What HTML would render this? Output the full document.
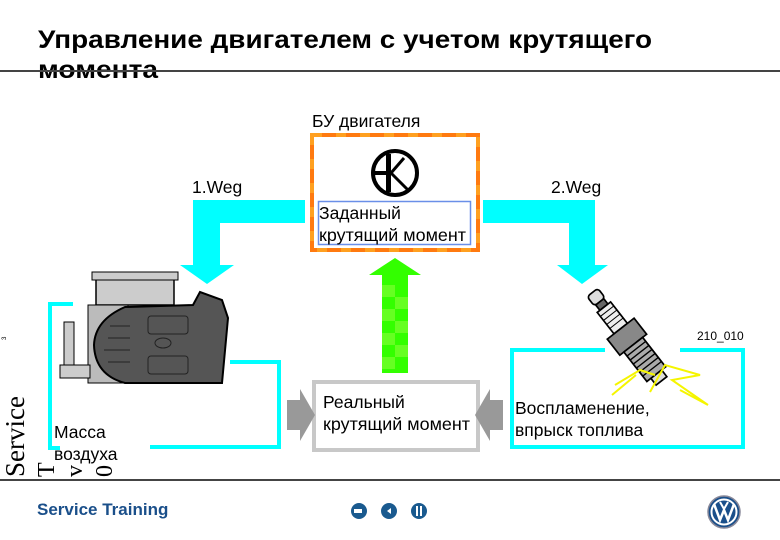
<!DOCTYPE html>
<html><head><meta charset="utf-8"><style>
html,body{margin:0;padding:0;background:#fff;width:780px;height:540px;overflow:hidden}
svg{display:block}
.s{font-family:"Liberation Sans","DejaVu Sans",sans-serif}
.r{font-family:"Liberation Serif",serif}
</style></head><body>
<svg width="780" height="540" viewBox="0 0 780 540" xmlns="http://www.w3.org/2000/svg">
<g class="s">
<!-- title -->
<text x="38" y="48" font-size="25" font-weight="bold" fill="#000" textLength="614" lengthAdjust="spacingAndGlyphs">Управление двигателем с учетом крутящего</text>
<text x="38" y="78" font-size="25" font-weight="bold" fill="#000" textLength="120" lengthAdjust="spacingAndGlyphs">момента</text>
<rect x="0" y="70" width="780" height="2" fill="#444"/>

<!-- ECU -->
<text x="312" y="127" font-size="17.5" fill="#000">БУ двигателя</text>
<rect x="312" y="135" width="166" height="115" fill="#fff" stroke="#ff7a10" stroke-width="4"/>
<rect x="312" y="135" width="166" height="115" fill="none" stroke="#ffa020" stroke-width="4" stroke-dasharray="10 14"/>
<circle cx="395" cy="173" r="22" fill="none" stroke="#000" stroke-width="4"/>
<rect x="386" y="154" width="5" height="38" fill="#000"/>
<line x1="373" y1="173" x2="391" y2="173" stroke="#000" stroke-width="4"/>
<line x1="391" y1="173" x2="404" y2="158" stroke="#000" stroke-width="3"/>
<line x1="391" y1="173" x2="408" y2="190" stroke="#000" stroke-width="3"/>
<rect x="318.5" y="201.5" width="152" height="43" fill="#fff" stroke="#6a8fe8" stroke-width="1.5"/>
<text x="319" y="219" font-size="17.5" fill="#000">Заданный</text>
<text x="319" y="241" font-size="17.5" fill="#000" textLength="147" lengthAdjust="spacingAndGlyphs">крутящий момент</text>

<!-- 1.Weg / 2.Weg -->
<text x="192" y="193" font-size="17.5" fill="#000">1.Weg</text>
<text x="551" y="193" font-size="17.5" fill="#000">2.Weg</text>
<polygon points="305,200 193,200 193,265 180,265 207,284 234,265 220,265 220,223 305,223" fill="#00ffff"/>
<polygon points="483,200 595,200 595,265 608,265 582,284 557,265 569,265 569,223 483,223" fill="#00ffff"/>

<!-- green arrow -->
<polygon points="395,258 421,275 408,275 408,373 382,373 382,275 369,275" fill="#33ff00"/>
<rect x="382" y="285" width="13" height="12" fill="#66ff22"/>
<rect x="395" y="297" width="13" height="12" fill="#66ff22"/>
<rect x="382" y="309" width="13" height="12" fill="#66ff22"/>
<rect x="395" y="321" width="13" height="12" fill="#66ff22"/>
<rect x="382" y="333" width="13" height="12" fill="#66ff22"/>
<rect x="395" y="345" width="13" height="12" fill="#66ff22"/>
<rect x="382" y="357" width="13" height="12" fill="#66ff22"/>

<!-- real torque box -->
<rect x="314" y="382" width="164" height="68" fill="#fff" stroke="#c8c8c8" stroke-width="4"/>
<text x="323" y="408" font-size="17.5" fill="#000">Реальный</text>
<text x="323" y="430" font-size="17.5" fill="#000" textLength="147" lengthAdjust="spacingAndGlyphs">крутящий момент</text>
<polygon points="287,400 300,400 300,389 315,415 300,441 300,430 287,430" fill="#999"/>
<polygon points="503,400 490,400 490,389 475,415 490,441 490,430 503,430" fill="#999"/>

<!-- left cyan frame -->
<polyline points="73,304 50,304 50,448 60,448" fill="none" stroke="#00ffff" stroke-width="4"/>
<polyline points="150,447 279,447 279,362 230,362" fill="none" stroke="#00ffff" stroke-width="4"/>
<text x="54" y="438" font-size="17.5" fill="#000">Масса</text>
<text x="54" y="460" font-size="17.5" fill="#000">воздуха</text>

<!-- throttle body -->
<rect x="96" y="275" width="78" height="30" fill="#ccc" stroke="#000" stroke-width="1.5"/>
<rect x="92" y="272" width="86" height="8" fill="#ccc" stroke="#000" stroke-width="1"/>
<rect x="88" y="305" width="40" height="78" fill="#bbb" stroke="#000" stroke-width="1"/>
<rect x="64" y="322" width="10" height="45" fill="#ccc" stroke="#000" stroke-width="1"/>
<rect x="60" y="365" width="30" height="13" fill="#ccc" stroke="#000" stroke-width="1"/>
<path d="M125,307 Q95,320 94,345 Q95,375 125,383 L222,383 L228,318 L222,300 L200,292 L193,305 Z" fill="#555" stroke="#000" stroke-width="2"/>
<rect x="148" y="316" width="40" height="18" rx="3" fill="#555" stroke="#222" stroke-width="1"/>
<rect x="148" y="356" width="40" height="18" rx="3" fill="#555" stroke="#222" stroke-width="1"/>
<ellipse cx="163" cy="343" rx="8" ry="5" fill="#555" stroke="#222" stroke-width="1"/>
<path d="M130,338 L108,338 M130,350 L104,350 M130,326 L110,326 M130,362 L108,362" stroke="#222" stroke-width="1"/>

<!-- right cyan frame -->
<polyline points="605,350 512,350 512,447 743,447 743,350 680,350" fill="none" stroke="#00ffff" stroke-width="4"/>
<text x="515" y="414" font-size="17.5" fill="#000">Воспламенение,</text>
<text x="515" y="436" font-size="17.5" fill="#000">впрыск топлива</text>
<text x="697" y="340" font-size="12" fill="#000">210_010</text>

<!-- spark plug -->
<g transform="translate(628,338) rotate(-38) scale(1.7)">
<rect x="-4" y="-34" width="8" height="7" rx="2" fill="#ddd" stroke="#000"/>
<rect x="-3" y="-27" width="6" height="4" fill="#666" stroke="#000"/>
<rect x="-5" y="-23" width="10" height="16" fill="#eee" stroke="#000"/>
<path d="M-5,-20 H5 M-5,-17 H5 M-5,-14 H5 M-5,-11 H5" stroke="#000" stroke-width="0.6"/>
<rect x="-10" y="-7" width="20" height="12" fill="#888" stroke="#000"/>
<rect x="-7" y="5" width="14" height="22" fill="#aaa" stroke="#000"/>
<path d="M-7,8 H7 M-7,11 H7 M-7,14 H7 M-7,17 H7 M-7,20 H7 M-7,23 H7" stroke="#000" stroke-width="0.8"/>
<rect x="-4" y="27" width="8" height="5" fill="#ddd" stroke="#000"/>
</g>
<path d="M615,385 L640,370 L655,375 M650,392 L665,365 L700,375 L672,380 L708,405 L680,390 M636,375 L612,395" fill="none" stroke="#f5f500" stroke-width="2"/>

<!-- footer -->
<rect x="0" y="479" width="780" height="2" fill="#444"/>
<text x="37" y="515" font-size="17" font-weight="bold" fill="#1a4f8a">Service Training</text>
</g>

<!-- left margin -->
<text class="s" font-size="6" fill="#000" transform="translate(6,340) rotate(-90)">3</text>
<text class="r" font-size="27" fill="#000" transform="translate(24,477) rotate(-90)">Service</text>
<text class="r" font-size="24" fill="#000" transform="translate(54,477) rotate(-90)">T</text>
<text class="r" font-size="24" fill="#000" transform="translate(82,477) rotate(-90)">v</text>
<text class="r" font-size="24" fill="#000" transform="translate(112,477) rotate(-90)">0</text>

<circle cx="359" cy="511" r="8" fill="#1a5a8f"/>
<rect x="354" y="509" width="8" height="4" fill="#fff"/>
<circle cx="389" cy="511" r="8" fill="#1a5a8f"/>
<polygon points="387,511 391,508 391,514" fill="#fff"/>
<circle cx="419" cy="511" r="8" fill="#1a5a8f"/>
<rect x="416" y="506" width="2" height="10" fill="#fff"/><rect x="420" y="506" width="2" height="10" fill="#fff"/>
<circle cx="724" cy="512" r="16" fill="#1a4f8a" stroke="#889" stroke-width="1.5"/>
<circle cx="724" cy="512" r="12.5" fill="none" stroke="#fff" stroke-width="2"/>
<path d="M714,504 L720,520 L724,510 L728,520 L734,504" fill="none" stroke="#fff" stroke-width="2.5"/>
<path d="M720,502 L724,509 L728,502" fill="none" stroke="#fff" stroke-width="2"/>
</svg>
</body></html>
